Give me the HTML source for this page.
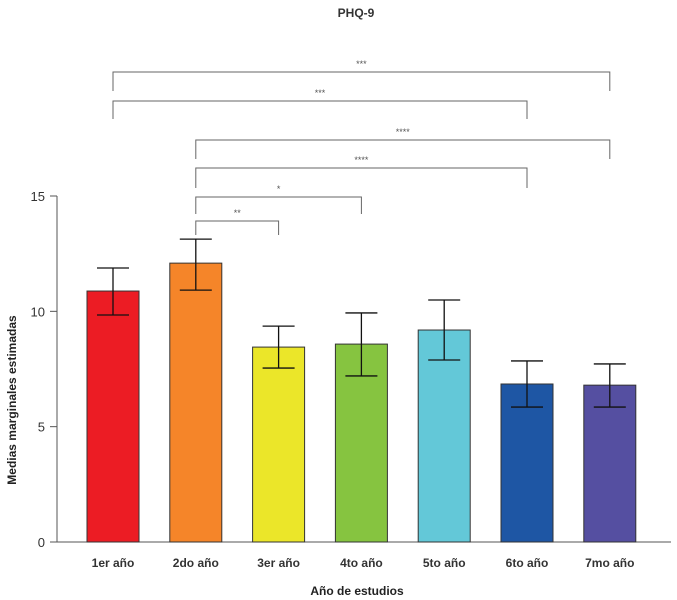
<!DOCTYPE html>
<html><head><meta charset="utf-8"><style>
html,body{margin:0;padding:0;background:#fff;}
svg{display:block;font-family:"Liberation Sans",Arial,sans-serif;}
</style></head><body>
<svg id="chart" width="677" height="600" viewBox="0 0 677 600">
<text x="356" y="17" text-anchor="middle" font-size="12" font-weight="bold" fill="#333">PHQ-9</text>
<text transform="translate(16,400) rotate(-90)" text-anchor="middle" font-size="12" font-weight="bold" fill="#222">Medias marginales estimadas</text>
<text x="357" y="595" text-anchor="middle" font-size="12" font-weight="bold" fill="#222">Año de estudios</text>
<g id="plot"></g>
</svg>
<script>
const categories = ["1er año","2do año","3er año","4to año","5to año","6to año","7mo año"];
const means = [10.88, 12.09, 8.45, 8.58, 9.19, 6.85, 6.8];
const upper = [11.88, 13.13, 9.36, 9.93, 10.49, 7.85, 7.72];
const lower = [9.84, 10.92, 7.54, 7.2, 7.89, 5.85, 5.85];
const colors = ["#ec1c24","#f58529","#ebe629","#86c440","#63c8d8","#1e56a4","#554fa1"];
const yTicks = [0, 5, 10, 15];
const comparisons = [[0,6,"***"],[0,5,"***"],[1,6,"****"],[1,5,"****"],[1,3,"*"],[1,2,"**"]];
const bracketY = [72, 101, 140, 168, 197, 221];
const legBottom = [91, 119, 159, 188, 214, 235];

const NS = "http://www.w3.org/2000/svg";
const g = document.getElementById("plot");
const y0 = 542, pxPerUnit = (542 - 196) / 15;
const yS = v => y0 - v * pxPerUnit;
const xC = i => 113 + i * 82.8;
const bw = 52;
function mk(tag, attrs, parent) {
  const e = document.createElementNS(NS, tag);
  for (const k in attrs) e.setAttribute(k, attrs[k]);
  (parent || g).appendChild(e);
  return e;
}
// axes
let ax = mk("line", {x1:57, y1:196, x2:57, y2:542, stroke:"#555", "stroke-width":1});


let bx = mk("line", {x1:57, y1:542, x2:671, y2:542, stroke:"#555", "stroke-width":1});


yTicks.forEach(t => {
  const tk = mk("line", {x1:50, y1:yS(t), x2:57, y2:yS(t), stroke:"#555"});
  
  
  const tl = mk("text", {x:45, y:yS(t)+5, "text-anchor":"end", "font-size":13, fill:"#333"});
  tl.textContent = t;
  
  
});
categories.forEach((c, i) => {
  const x = xC(i);
  const r = mk("rect", {x:x-bw/2, y:yS(means[i]), width:bw, height:y0-yS(means[i]), fill:colors[i], stroke:"#333", "stroke-width":1});
  
  
  const eb = mk("path", {d:`M${x-16},${yS(upper[i])}H${x+16}M${x},${yS(upper[i])}V${yS(lower[i])}M${x-16},${yS(lower[i])}H${x+16}`, stroke:"#111", "stroke-width":1.3, fill:"none"});
  
  
  const tl = mk("text", {x:x, y:567, "text-anchor":"middle", "font-size":12, "font-weight":"bold", fill:"#333"});
  tl.textContent = c;
  
  
});
comparisons.forEach((cmp, k) => {
  const a = xC(cmp[0]), b = xC(cmp[1]), yy = bracketY[k];
  const p = mk("path", {d:`M${a},${legBottom[k]}V${yy}H${b}V${legBottom[k]}`, stroke:"#666", "stroke-width":1, fill:"none"});
  
  
  const t = mk("text", {x:(a+b)/2, y:yy-5, "text-anchor":"middle", "font-size":9, fill:"#555"});
  t.textContent = cmp[2];
  
  
});
</script>
</body></html>
